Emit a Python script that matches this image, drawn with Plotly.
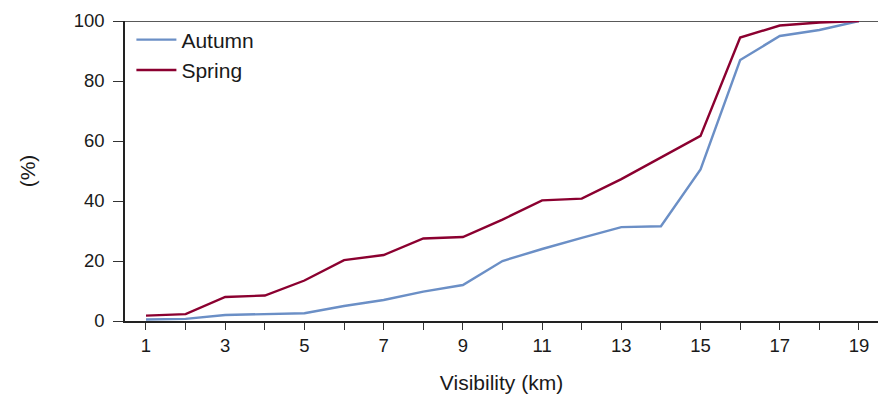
import plotly.graph_objects as go

visibility = list(range(1, 20))
autumn = [0.5, 0.7, 2.0, 2.3, 2.6, 5.0, 7.0, 9.8, 12.0, 20.0, 24.0, 27.7, 31.3, 31.6, 50.5, 87.0, 95.0, 97.0, 100.0]
spring = [1.8, 2.3, 8.0, 8.5, 13.5, 20.3, 22.0, 27.5, 28.0, 33.8, 40.2, 40.8, 47.3, 54.5, 61.7, 94.5, 98.5, 99.5, 100.0]
x_ticktext = [str(v) if v % 2 == 1 else "" for v in visibility]
y_ticks = [0, 20, 40, 60, 80, 100]

fig = go.Figure()
fig.add_trace(go.Scatter(x=visibility, y=autumn, mode="lines", name="Autumn",
                         line=dict(color="#6b8fc6", width=2.4)))
fig.add_trace(go.Scatter(x=visibility, y=spring, mode="lines", name="Spring",
                         line=dict(color="#8b0030", width=2.4)))

fig.update_layout(
    width=878, height=396,
    margin=dict(l=125, r=0, t=21, b=75),
    paper_bgcolor="white", plot_bgcolor="white",
    font=dict(family="Liberation Sans, Arial, sans-serif", size=18.5, color="#1a1a1a"),
    showlegend=True,
    legend=dict(x=0.0085, y=1.005, xanchor="left", yanchor="top", bgcolor="rgba(0,0,0,0)",
                font=dict(size=21), itemwidth=40, tracegroupgap=0),
    xaxis=dict(range=[0.47, 19.48], tickmode="array", tickvals=visibility, ticktext=x_ticktext,
               ticks="outside", ticklen=7, tickcolor="#333", showline=True, linecolor="#222",
               linewidth=1.5, showgrid=False, zeroline=False, mirror=False, automargin=False,
               title=dict(text="Visibility (km)", font=dict(size=21), standoff=20)),
    yaxis=dict(range=[0, 100], tickmode="array", tickvals=y_ticks,
               ticks="outside", ticklen=10, tickcolor="#333", showline=True, linecolor="#222",
               linewidth=1.5, showgrid=False, zeroline=False, automargin=False,
               ticklabelstandoff=5,
               title=dict(text="(%)", font=dict(size=21), standoff=32)),
)
fig.add_shape(type="line", xref="paper", yref="y", x0=0, x1=1, y0=100, y1=100,
              line=dict(color="#222", width=1.5), layer="below")

fig.write_html("out.html", config={"displayModeBar": False},
               post_script="document.body.style.margin='0';")
